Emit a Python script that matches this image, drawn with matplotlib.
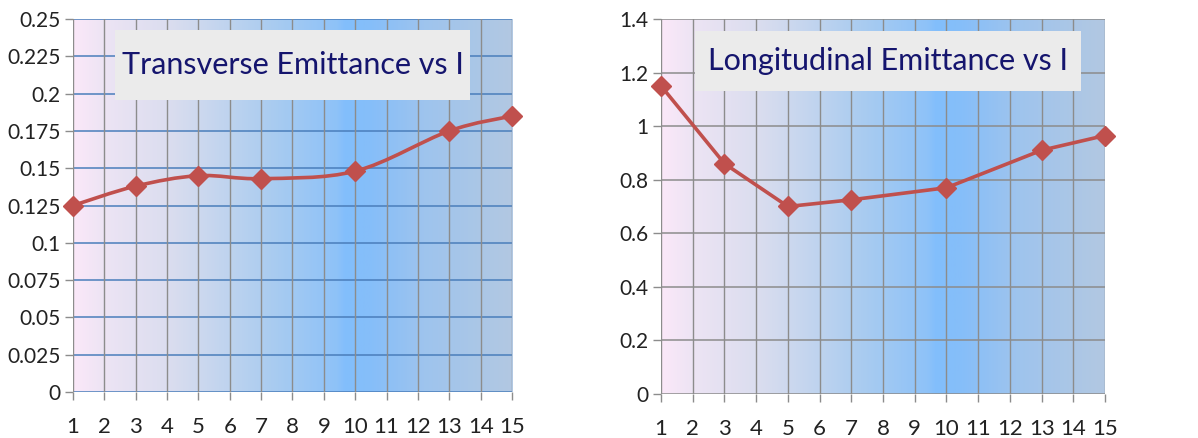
import numpy as np
import matplotlib
matplotlib.use("Agg")
import matplotlib.pyplot as plt
from matplotlib.colors import LinearSegmentedColormap
from matplotlib.path import Path
from matplotlib.patches import PathPatch, Rectangle

# data
current = [1, 3, 5, 7, 10, 13, 15]
transverse = [0.125, 0.138, 0.145, 0.143, 0.148, 0.175, 0.185]
longitudinal = [1.15, 0.86, 0.70, 0.725, 0.77, 0.91, 0.965]
x_ticks = list(range(1, 16))
left_yticks = [0, 0.025, 0.05, 0.075, 0.1, 0.125, 0.15, 0.175, 0.2, 0.225, 0.25]
left_ylabels = ["0", "0.025", "0.05", "0.075", "0.1", "0.125", "0.15", "0.175", "0.2", "0.225", "0.25"]
right_yticks = [0, 0.2, 0.4, 0.6, 0.8, 1.0, 1.2, 1.4]
right_ylabels = ["0", "0.2", "0.4", "0.6", "0.8", "1", "1.2", "1.4"]
titles = ["Transverse Emittance vs I", "Longitudinal Emittance vs I"]

plt.rcParams["font.family"] = ["Lato", "DejaVu Sans"]

RED = "#C0504D"
bg = LinearSegmentedColormap.from_list("bg", [
    (0.0, "#FBE8F9"), (0.07, "#EDE4F4"), (0.22, "#DADDEF"), (0.29, "#CCD8EE"),
    (0.45, "#AACCF0"), (0.6, "#8EC2F8"), (0.62, "#82BEFC"), (0.68, "#86BEF9"),
    (0.8, "#9EC4EE"), (1.0, "#B2C8E2")])


def smooth_path(xs, ys):
    # Excel style smoothed line: catmull-rom segments as bezier curves
    pts = np.column_stack([xs, ys]).astype(float)
    verts = [pts[0]]
    codes = [Path.MOVETO]
    n = len(pts)
    for i in range(n - 1):
        p0 = pts[max(i - 1, 0)]
        p1 = pts[i]
        p2 = pts[i + 1]
        p3 = pts[min(i + 2, n - 1)]
        c1 = p1 + (p2 - p0) / 6.0
        c2 = p2 - (p3 - p1) / 6.0
        verts += [c1, c2, p2]
        codes += [Path.CURVE4] * 3
    return Path(verts, codes)


fig = plt.figure(figsize=(11.98, 4.38), dpi=100)
ax1 = fig.add_axes([0.0609, 0.105, 0.3665, 0.8516])
ax2 = fig.add_axes([0.5518, 0.1005, 0.3706, 0.8561])

panels = [
    (ax1, transverse, left_yticks, left_ylabels, 0.25, "#4A7EBB", True),
    (ax2, longitudinal, right_yticks, right_ylabels, 1.4, "#8C8C8C", False),
]

for ax, vals, yt, yl, ymax, hcol, smooth in panels:
    grad = np.linspace(0, 1, 256).reshape(1, -1)
    ax.imshow(grad, cmap=bg, extent=(1, 15, 0, ymax), aspect="auto", zorder=0)
    ax.set_xlim(1, 15)
    ax.set_ylim(0, ymax)
    ax.set_xticks(x_ticks)
    ax.set_xticklabels([str(t) for t in x_ticks])
    ax.set_yticks(yt)
    ax.set_yticklabels(yl)
    for v in yt:
        ax.axhline(v, color=hcol, lw=1.1, zorder=1)
    for t in x_ticks:
        ax.axvline(t, color="#8C8C8C", lw=1.0, zorder=1)
    for s in ax.spines.values():
        s.set_visible(False)
    ax.tick_params(axis="both", length=6, width=1, color="#8C8C8C",
                   labelcolor="#222222")
    ax.tick_params(axis="y", labelsize=15, pad=3)
    ax.tick_params(axis="x", labelsize=16, pad=12)
    if smooth:
        ax.add_patch(PathPatch(smooth_path(current, vals), fill=False,
                               edgecolor=RED, lw=2.6, zorder=3, clip_on=False))
        ax.plot(current, vals, ls="none", marker="D", ms=10, color=RED,
                zorder=4, clip_on=False)
    else:
        ax.plot(current, vals, lw=2.6, marker="D", ms=10, color=RED,
                zorder=3, clip_on=False)

# title boxes
boxes = [(0.096, 0.7717, 0.2963, 0.1598), (0.5801, 0.7922, 0.3222, 0.137)]
for (x0, y0, w, h), title in zip(boxes, titles):
    fig.patches.append(Rectangle((x0, y0), w, h, transform=fig.transFigure,
                                 facecolor="#EBEBEB", edgecolor="none", zorder=5))
    fig.text(x0 + w / 2, y0 + h / 2, title, ha="center", va="center",
             fontsize=22, color="#15156E", zorder=6)

fig.savefig("out.png", dpi=100)
